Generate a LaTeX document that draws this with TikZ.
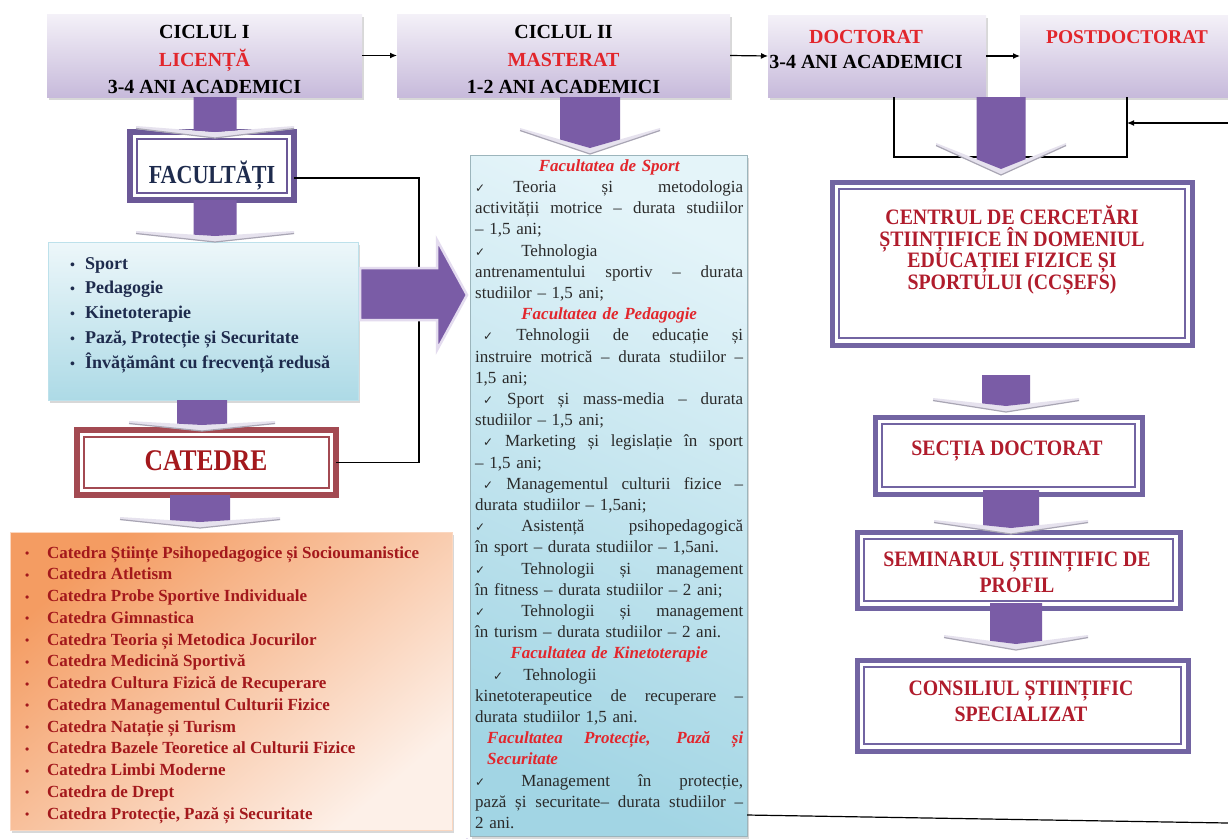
\documentclass[tikz,border=0pt]{standalone}
\usepackage{fontspec}
\setmainfont{Liberation Serif}
\newfontfamily\condserif{Liberation Serif}[FakeStretch=0.85]
\newfontfamily\rightserif{Liberation Serif}[FakeStretch=0.9]
\newfontfamily\dejavu{DejaVu Sans}
\usetikzlibrary{calc,shadows,arrows.meta}
\setlength{\parindent}{0pt}
\pgfdeclarelayer{bg}
\pgfsetlayers{bg,main}

\definecolor{purp}{HTML}{7A5CA6}
\definecolor{pglow}{HTML}{E4DCEF}
\definecolor{frame}{HTML}{7264A2}
\definecolor{facframe}{HTML}{6B5897}
\definecolor{redframe}{HTML}{A34A52}
\definecolor{navy}{HTML}{1E2B4D}
\definecolor{txtred}{HTML}{B01C2C}
\definecolor{brightred}{HTML}{E2262C}
\definecolor{catred}{HTML}{A3181C}
\definecolor{bodytxt}{HTML}{2A2A2A}
\definecolor{lav1}{HTML}{F4F1F8}
\definecolor{lav2}{HTML}{C7BADB}
\definecolor{blue1}{HTML}{EDF7FA}
\definecolor{blue2}{HTML}{ADDAE6}
\definecolor{or1}{HTML}{F49C62}
\definecolor{or2}{HTML}{FDF0E8}
\definecolor{mid1}{HTML}{E4F4F9}
\definecolor{mid3}{HTML}{A2D5E4}
\definecolor{chev1}{HTML}{A9A6B4}
\definecolor{chev2}{HTML}{E6E2EE}

\newcommand{\ck}{{\dejavu\fontsize{12}{12}\selectfont ✓}}
\newcommand{\fh}[1]{{\color{brightred}\bfseries\itshape #1}}
\newcommand{\jst}[1]{\makebox[268pt][s]{\spaceskip=0.25em plus 10em\xspaceskip=0.25em plus 10em\relax #1}}
\newcommand{\cen}[1]{\makebox[268pt][c]{#1}}
\newcommand{\bulo}{\makebox[22pt][l]{\raisebox{0.5pt}{\fontsize{12}{12}\selectfont\textbullet}}}
\newcommand{\bulb}{\makebox[15pt][l]{\fontsize{14}{14}\selectfont\textbullet}}
% cx, shaft top, shaft half width, chevron half width, chevron end y, tip y
\newcommand{\downarr}[6]{%
  \pgfmathsetmacro{\yedge}{#5+(#6-6-#5)*(1-#3/#4)}%
  \fill[chev2] (#1-#4,#5) -- (#1,#6-6) -- (#1+#4,#5) -- (#1+#4,#5+3) -- (#1,#6) -- (#1-#4,#5+3) -- cycle;
  \draw[chev1, line width=1.2pt, line join=round] (#1-#4,#5+2.5) -- (#1,#6) -- (#1+#4,#5+2.5);
  \fill[purp] (#1-#3,#2) -- (#1+#3,#2) -- (#1+#3,\yedge) -- (#1,#6-6) -- (#1-#3,\yedge) -- cycle;
}
\newcommand{\innerframe}[3]{%
  \draw[#3, line width=1.5pt] ($(#1.north west)+(#2,#2)$) rectangle ($(#1.south east)+(-#2,-#2)$);
}

\begin{document}
\begin{tikzpicture}[x=1pt,y=-1pt,
  conn/.style={line width=1.2pt, black},
  tipr/.style={-{Latex[length=7pt,width=6pt]}},
  shad/.style={drop shadow={opacity=0.3,shadow xshift=1.5pt,shadow yshift=-3pt}},
  topbox/.style={shad, top color=lav1, bottom color=lav2, inner sep=0pt, outer sep=0pt, anchor=north west},
  frbox/.style={shad, fill=white, draw=frame, line width=5pt, inner sep=0pt, outer sep=0pt, anchor=north west},
  topfont/.style={font=\bfseries\fontsize{20}{27.5}\selectfont},
  rfont/.style={font=\rightserif\bfseries\fontsize{22}{26}\selectfont, text=txtred, align=center, inner sep=0pt}
]
\useasboundingbox (0,0) rectangle (1228,838);
\fill[white] (0,0) rectangle (1228,838);

% small hidden arrow (behind the two lower boxes)
\begin{pgfonlayer}{bg}
\draw[fill=purp, draw=pglow, line width=2pt] (430,803) -- (467,803) -- (467,790) -- (490,814) -- (467,838) -- (467,825) -- (430,825) -- cycle;
\end{pgfonlayer}

% ---- top row
\node[topbox, minimum width=315pt, minimum height=83pt] (c1) at (47,14) {};
\node[topbox, minimum width=333pt, minimum height=83pt] (c2) at (397,14) {};
\node[topbox, minimum width=218pt, minimum height=82pt] (doc) at (768,15) {};
\node[topbox, minimum width=215pt, minimum height=82pt] (post) at (1020,15) {};

\node[topfont, anchor=north, align=center, inner sep=0pt] (c1t) at (204.5,20.5)
  {\rule{0pt}{18pt}CICLUL I\\\textcolor{brightred}{LICENȚĂ}\\3-4 ANI ACADEMICI};
\node[topfont, anchor=north, align=center, inner sep=0pt] (c2t) at (563.5,20.5)
  {\rule{0pt}{18pt}CICLUL II\\\textcolor{brightred}{MASTERAT}\\1-2 ANI ACADEMICI};
\node[font=\bfseries\fontsize{20}{25}\selectfont, anchor=north, align=center, inner sep=0pt] (doct) at (866,25.5)
  {\rule{0pt}{18pt}\textcolor{brightred}{DOCTORAT}\\3-4 ANI ACADEMICI};
\node[font=\bfseries\fontsize{19.5}{24}\selectfont, text=brightred, anchor=base, inner sep=0pt] (postt) at (1127,43.5) {POSTDOCTORAT};

% ---- left column
\node[shad, fill=white, draw=facframe, line width=6pt, inner sep=0pt, outer sep=0pt, anchor=north west,
      minimum width=164pt, minimum height=68pt] (fac) at (130,132) {};
\innerframe{fac}{7}{facframe}
\node[font=\condserif\bfseries\fontsize{26}{26}\selectfont, text=navy, anchor=base, inner sep=0pt] (fact) at (212,183) {FACULTĂȚI};

\node[shad, top color=blue1, bottom color=blue2, draw=blue2!80!white, line width=0.6pt, inner sep=0pt, outer sep=0pt,
      anchor=north west, minimum width=310pt, minimum height=158pt] (list) at (48,242) {};
\node[anchor=north west, inner sep=0pt, align=left, text=navy, font=\bfseries\fontsize{18}{24.75}\selectfont] (listt) at (70,252)
  {\rule{0pt}{17pt}\bulb Sport\\ \bulb Pedagogie\\ \bulb Kinetoterapie\\ \bulb Pază, Protecție și Securitate\\ \bulb Învățământ cu frecvență redusă};

\node[shad, fill=white, draw=redframe, line width=6pt, inner sep=0pt, outer sep=0pt, anchor=north west,
      minimum width=259pt, minimum height=65pt] (cat) at (77,430) {};
\innerframe{cat}{7}{redframe}
\node[font=\condserif\bfseries\fontsize{30}{30}\selectfont, text=catred, anchor=base, inner sep=0pt] (catt) at (206,470) {CATEDRE};

\node[shad, top color=or1, bottom color=or2, shading angle=40, draw=or1!40!white, line width=0.6pt, inner sep=0pt, outer sep=0pt,
      anchor=north west, minimum width=442pt, minimum height=298pt] (orange) at (10,532) {};
\node[anchor=north west, inner sep=0pt, align=left, text=catred, font=\bfseries\fontsize{17}{21.75}\selectfont] (orat) at (25,542)
  {\rule{0pt}{16pt}\bulo Catedra Științe Psihopedagogice și Socioumanistice\\
   \bulo Catedra Atletism\\
   \bulo Catedra Probe Sportive Individuale\\
   \bulo Catedra Gimnastica\\
   \bulo Catedra Teoria și Metodica Jocurilor\\
   \bulo Catedra Medicină Sportivă\\
   \bulo Catedra Cultura Fizică de Recuperare\\
   \bulo Catedra Managementul Culturii Fizice\\
   \bulo Catedra Natație și Turism\\
   \bulo Catedra Bazele Teoretice al Culturii Fizice\\
   \bulo Catedra Limbi Moderne\\
   \bulo Catedra de Drept\\
   \bulo Catedra Protecție, Pază și Securitate};

% ---- middle column
\node[shad, top color=mid1, bottom color=mid3, shading angle=-25, draw=mid3!70!black!70, line width=0.6pt, inner sep=0pt, outer sep=0pt,
      anchor=north west, minimum width=277pt, minimum height=681pt] (mid) at (470,155) {};
\node[anchor=north west, inner sep=0pt, text width=268pt, align=left, text=bodytxt,
      font=\fontsize{17}{21.2}\selectfont] (midt) at (475,155) {%
\rule{0pt}{16pt}\cen{\fh{Facultatea de Sport}}\\
\jst{\ck\hspace{28pt}Teoria și metodologia}\\
\jst{activității motrice – durata studiilor}\\
– 1,5 ani;\\
\ck\hspace{36pt}Tehnologia\\
\jst{antrenamentului sportiv – durata}\\
studiilor – 1,5 ani;\\
\cen{\fh{Facultatea de Pedagogie}}\\
\jst{\hspace*{8pt}\ck\ Tehnologii de educație și}\\
\jst{instruire motrică – durata studiilor –}\\
1,5 ani;\\
\jst{\hspace*{8pt}\ck\ Sport și mass-media – durata}\\
studiilor – 1,5 ani;\\
\jst{\hspace*{8pt}\ck\ Marketing și legislație în sport}\\
– 1,5 ani;\\
\jst{\hspace*{8pt}\ck\ Managementul culturii fizice –}\\
durata studiilor – 1,5ani;\\
\jst{\ck\hspace{36pt}Asistență psihopedagogică}\\
în sport – durata studiilor – 1,5ani.\\
\jst{\ck\hspace{36pt}Tehnologii și management}\\
în fitness – durata studiilor – 2 ani;\\
\jst{\ck\hspace{36pt}Tehnologii și management}\\
în turism – durata studiilor – 2 ani.\\
\cen{\fh{Facultatea de Kinetoterapie}}\\
\hspace*{18pt}\ck\hspace{20pt}Tehnologii\\
\jst{kinetoterapeutice de recuperare –}\\
durata studiilor 1,5 ani.\\
\jst{\hspace*{12pt}\fh{Facultatea Protecție, Pază și}}\\
\hspace*{12pt}\fh{Securitate}\\
\jst{\ck\hspace{36pt}Management în protecție,}\\
\jst{pază și securitate– durata studiilor –}\\
2 ani.};

% ---- right column
\node[frbox, minimum width=360pt, minimum height=163pt] (ccs) at (832,182) {};
\innerframe{ccs}{7}{frame}
\node[rfont, font=\rightserif\bfseries\fontsize{22}{21.5}\selectfont, anchor=north] (ccst) at (1012,204.5)
  {\rule{0pt}{20pt}CENTRUL DE CERCETĂRI\\ȘTIINȚIFICE ÎN DOMENIUL\\EDUCAȚIEI FIZICE ȘI\\SPORTULUI (CCȘEFS)};

\node[frbox, minimum width=267pt, minimum height=77pt] (sec) at (875,417) {};
\innerframe{sec}{7}{frame}
\node[rfont, anchor=base] (sect) at (1007,455) {SECȚIA DOCTORAT};

\node[frbox, minimum width=323pt, minimum height=76pt] (sem) at (857,532) {};
\innerframe{sem}{7}{frame}
\node[rfont, anchor=north] (semt) at (1017,546) {\rule{0pt}{20pt}SEMINARUL ȘTIINȚIFIC DE\\PROFIL};

\node[frbox, minimum width=331pt, minimum height=91pt] (cons) at (857,660) {};
\innerframe{cons}{7}{frame}
\node[rfont, anchor=north] (const) at (1021,675) {\rule{0pt}{20pt}CONSILIUL ȘTIINȚIFIC\\SPECIALIZAT};

% ---- connectors
\coordinate (fc) at (419,178);
\draw[conn] (fac.east |- fc) -- (fc) -- (fc |- cat.east) -- (cat.east);
\coordinate (redge) at (1228,823);
\draw[conn] ($(mid.south east)+(0,-21)$) -- (redge);

\draw[conn, tipr] (c1.east) -- (c2.west);
\draw[conn, tipr] (c2.east) -- (doc.west);
\draw[conn, tipr] (doc.east) -- (post.west);
\coordinate (bk1) at (894,157);
\coordinate (bk2) at (1127,157);
\draw[conn] (doc.south -| bk1) -- (bk1) -- (bk2) -- (post.south -| bk2);
\coordinate (rin) at (1228,123);
\draw[conn, tipr] (rin) -- (rin -| bk2);

% big right arrow from list to middle box
\draw[fill=purp, draw=pglow, line width=2.5pt, line join=miter] (360,268) -- (437,268) -- (437,240) -- (467,295) -- (437,350) -- (437,320) -- (360,320) -- cycle;

% ---- block down arrows
\downarr{215}{97}{21.5}{79}{126}{138}
\downarr{215}{200}{21.5}{79}{231}{242}
\downarr{202}{400}{25}{73}{421}{431}
\downarr{200}{495}{30}{80}{517}{528}
\downarr{590}{97}{30}{70}{128}{154}
\downarr{1001}{97}{24.5}{65}{143}{175}
\downarr{1006}{375}{24}{73}{398}{412}
\downarr{1011}{490}{28}{77}{520}{534}
\downarr{1016}{603}{26}{72}{635}{650}
\end{tikzpicture}
\end{document}
